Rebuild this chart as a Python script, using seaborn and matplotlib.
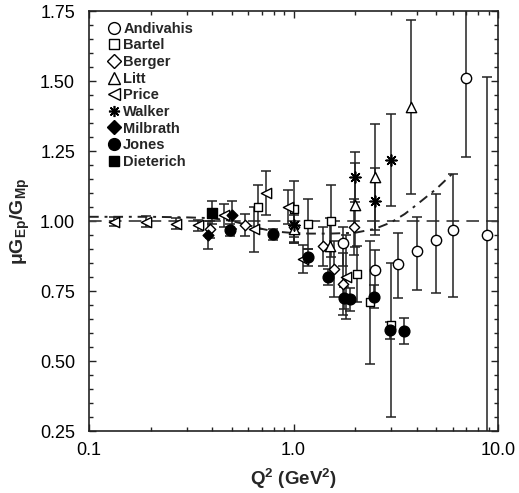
import numpy as np
import pandas as pd
import matplotlib
matplotlib.use("Agg")
import matplotlib.pyplot as plt
import matplotlib.ticker as mticker
from matplotlib.lines import Line2D
import seaborn as sns

# ---------------- data ----------------
andivahis_q2 = [1.75, 2.5, 3.25, 4.0, 5.0, 6.0, 7.0, 8.83]
andivahis_r = [0.92, 0.825, 0.846, 0.893, 0.932, 0.967, 1.51, 0.95]
andivahis_lo = [0.08, 0.10, 0.12, 0.14, 0.19, 0.24, 0.28, 0.75]
andivahis_hi = [0.06, 0.07, 0.11, 0.12, 0.165, 0.20, 0.30, 0.565]

bartel_q2 = [0.67, 1.0, 1.18, 1.52, 2.04, 2.36, 3.0]
bartel_r = [1.05, 1.044, 0.99, 1.0, 0.81, 0.71, 0.63]
bartel_lo = [0.08, 0.10, 0.09, 0.13, 0.10, 0.22, 0.33]
bartel_hi = [0.08, 0.10, 0.09, 0.13, 0.10, 0.22, 0.22]

berger_q2 = [0.39, 0.58, 1.0, 1.39, 1.57, 1.75, 1.97]
berger_r = [0.97, 0.985, 0.98, 0.91, 0.83, 0.775, 0.98]
berger_err = [0.03, 0.04, 0.06, 0.07, 0.10, 0.11, 0.10]

litt_q2 = [1.0, 1.5, 2.0, 2.5, 3.75]
litt_r = [0.97, 0.91, 1.057, 1.157, 1.407]
litt_err = [0.05, 0.10, 0.15, 0.19, 0.31]

price_q2 = [0.133, 0.19, 0.267, 0.34, 0.455, 0.64, 0.73, 0.94, 1.11, 1.8]
price_r = [0.998, 0.998, 0.99, 0.985, 1.02, 0.97, 1.10, 1.05, 0.865, 0.80]
price_err = [0.015, 0.02, 0.02, 0.02, 0.04, 0.08, 0.08, 0.06, 0.05, 0.15]

walker_q2 = [1.0, 2.0, 2.5, 3.0]
walker_r = [0.985, 1.157, 1.07, 1.218]
walker_err = [0.06, 0.09, 0.12, 0.165]

milbrath_q2 = [0.38, 0.5]
milbrath_r = [0.95, 1.02]
milbrath_err = [0.05, 0.05]

jones_q2 = [0.49, 0.79, 1.18, 1.48, 1.77, 1.88, 2.47, 2.97, 3.47]
jones_r = [0.968, 0.953, 0.87, 0.80, 0.725, 0.72, 0.73, 0.61, 0.607]
jones_err = [0.02, 0.02, 0.03, 0.03, 0.04, 0.04, 0.04, 0.03, 0.045]

dieterich_q2 = [0.4]
dieterich_r = [1.03]
dieterich_err = [0.04]

fit_q2 = [0.1, 0.2, 0.3, 0.4, 0.5, 0.6, 0.7, 0.8, 1.0, 1.2, 1.5, 2.0, 2.5, 3.0, 3.5, 4.0, 5.0, 6.1]
fit_r = [1.015, 1.015, 1.013, 1.01, 1.0, 0.985, 0.972, 0.963, 0.957, 0.955, 0.955, 0.958, 0.972, 0.995, 1.025, 1.058, 1.115, 1.175]

x_ticks = [0.1, 1.0, 10.0]
x_ticklabels = ["0.1", "1.0", "10.0"]
y_ticks = [0.25, 0.50, 0.75, 1.00, 1.25, 1.50, 1.75]

# ---------------- styling ----------------
sns.set_style("ticks")
plt.rcParams["font.family"] = ["Liberation Sans", "DejaVu Sans"]
plt.rcParams["mathtext.fontset"] = "custom"
plt.rcParams["mathtext.rm"] = "Liberation Sans"
plt.rcParams["mathtext.bf"] = "Liberation Sans:bold"

fig = plt.figure(figsize=(5.19, 4.93), dpi=100)
ax = fig.add_axes([89 / 519, 62 / 493, 409 / 519, 420 / 493])

ink = "black"
lw = 1.1

series = [
    ("Andivahis", andivahis_q2, andivahis_r, [andivahis_lo, andivahis_hi], "o", False, 55),
    ("Bartel", bartel_q2, bartel_r, [bartel_lo, bartel_hi], "s", False, 40),
    ("Berger", berger_q2, berger_r, berger_err, "D", False, 28),
    ("Litt", litt_q2, litt_r, litt_err, "^", False, 55),
    ("Price", price_q2, price_r, price_err, "<", False, 55),
    ("Walker", walker_q2, walker_r, walker_err, (8, 2, 0), True, 60),
    ("Milbrath", milbrath_q2, milbrath_r, milbrath_err, "D", True, 30),
    ("Jones", jones_q2, jones_r, jones_err, "o", True, 60),
    ("Dieterich", dieterich_q2, dieterich_r, dieterich_err, "s", True, 45),
]

# reference lines
ax.axhline(1.0, color="#444444", lw=1.3, ls=(0, (7, 4)), zorder=1)
sns.lineplot(x=fit_q2, y=fit_r, ax=ax, color="#222222", lw=1.4,
             linestyle=(0, (5, 3, 1.5, 3)), zorder=1, sort=False)

handles = []
for name, xs, ys, err, mk, filled, size in series:
    ax.errorbar(xs, ys, yerr=err, fmt="none", ecolor="#222222",
                elinewidth=lw, capsize=3.5, capthick=lw, zorder=2)
    df = pd.DataFrame({"q2": xs, "r": ys})
    if mk == (8, 2, 0):
        sns.scatterplot(data=df, x="q2", y="r", ax=ax, marker=mk, s=size,
                        color=ink, linewidth=1.2, zorder=4)
    else:
        sns.scatterplot(data=df, x="q2", y="r", ax=ax, marker=mk, s=size,
                        facecolor=ink if filled else "white",
                        edgecolor=ink, linewidth=1.0, zorder=4)
    if mk == (8, 2, 0):
        h = Line2D([], [], ls="none", marker=mk, markersize=8,
                   color=ink, markeredgewidth=1.2)
    else:
        h = Line2D([], [], ls="none", marker=mk,
                   markersize=8.5 if mk not in ("D", "s") else 7,
                   markerfacecolor=ink if filled else "white",
                   markeredgecolor=ink, markeredgewidth=1.0)
    handles.append((h, name))

ax.set_xscale("log")
ax.set_xlim(0.1, 10.0)
ax.set_ylim(0.25, 1.75)
ax.set_xticks(x_ticks)
ax.set_xticklabels(x_ticklabels)
ax.xaxis.set_minor_locator(mticker.LogLocator(base=10, subs=np.arange(2, 10)))
ax.xaxis.set_minor_formatter(mticker.NullFormatter())
ax.set_yticks(y_ticks)
ax.yaxis.set_major_formatter(mticker.FormatStrFormatter("%.2f"))
ax.yaxis.set_minor_locator(mticker.MultipleLocator(0.05))

ax.tick_params(which="both", direction="in", top=True, right=True,
               colors="#222222", labelcolor="black", width=1.0)
ax.tick_params(which="major", length=5, labelsize=13)
ax.tick_params(axis="x", which="major", pad=8)
ax.tick_params(axis="y", which="major", pad=10)
ax.tick_params(which="minor", length=3)
for s in ax.spines.values():
    s.set_linewidth(1.2)
    s.set_color("#222222")

ax.set_xlabel("Q$^\\mathbf{2}$ (GeV$^\\mathbf{2}$)", fontsize=13.5, fontweight="bold", labelpad=5)
ax.set_ylabel("μG$_\\mathbf{Ep}$/G$_\\mathbf{Mp}$", fontsize=14, fontweight="bold", labelpad=6)

leg = ax.legend([h for h, _ in handles], [n for _, n in handles],
                loc="upper left", bbox_to_anchor=(0.03, 0.995), frameon=False,
                handlelength=0.6, handletextpad=0.3, labelspacing=0.18,
                borderaxespad=0.2, prop={"weight": "bold", "size": 10.5})

fig.savefig("out.png", dpi=100)
